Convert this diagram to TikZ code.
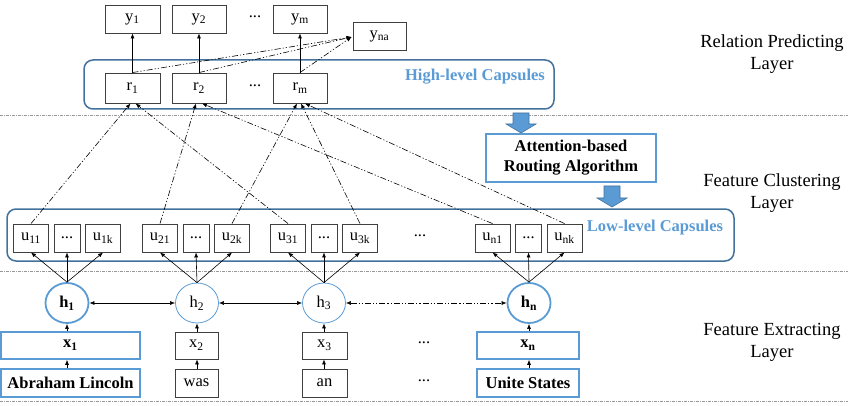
\documentclass[tikz,border=0pt]{standalone}
\usepackage{fontspec}
\setmainfont{Liberation Serif}
\usetikzlibrary{arrows.meta,calc,shapes.geometric}
\definecolor{lblue}{HTML}{5B9BD5}
\definecolor{dblue}{HTML}{41719C}
\definecolor{bgray}{HTML}{404040}
\tikzset{
  box/.style={draw=bgray,line width=0.9pt,minimum height=28pt,inner sep=0pt,
    font=\fontsize{16.5}{19}\selectfont},
  bbox/.style={box,draw=lblue,line width=1.6pt},
  hnode/.style={ellipse,draw=lblue,line width=0.8pt,minimum width=43pt,minimum height=40pt,
    inner sep=0pt,font=\fontsize{16.5}{19}\selectfont},
  hthick/.style={hnode,line width=1.8pt},
  plain/.style={inner sep=0pt,font=\fontsize{16.5}{19}\selectfont},
  arr/.style={-{Latex[length=5pt,width=4pt]},line width=0.6pt,black},
  darr/.style={{Latex[length=5pt,width=4pt]}-{Latex[length=5pt,width=4pt]},line width=0.6pt,black},
  conn/.style={arr,dash pattern=on 6pt off 2pt on 1.2pt off 2pt on 1.2pt off 2pt},
  sep/.style={gray!80,line width=0.9pt,dash pattern=on 3pt off 1pt on 1pt off 1pt},
  capbox/.style={draw=dblue,line width=1.5pt,rounded corners=9pt},
  blockarrow/.style={fill=lblue,draw=dblue,line width=0.6pt},
  lbl/.style={align=center,font=\fontsize{18.5}{22}\selectfont},
  captxt/.style={text=lblue,font=\bfseries\fontsize{16.5}{19}\selectfont,inner sep=0pt}
}
\begin{document}
\begin{tikzpicture}[x=1pt,y=-1pt]
\useasboundingbox (0,0) rectangle (848,406);
% separators
\draw[sep] (0,115) -- (848,115);
\draw[sep] (0,271) -- (848,271);
\draw[sep] (0,401) -- (848,401);
% containers
\draw[capbox] (84,60) rectangle (554,109);
\draw[capbox] (7,209) rectangle (734,261);
\node[captxt] (hlc) at (475,77) {High-level Capsules};
\node[captxt] (llc) at (655,228) {Low-level Capsules};
% y and r
\node[box,minimum width=55pt] (y1) at (132.5,19) {y\textsubscript{1}};
\node[box,minimum width=54pt] (y2) at (199,19) {y\textsubscript{2}};
\node[box,minimum width=54pt] (ym) at (300,19) {y\textsubscript{m}};
\node[box,minimum width=53pt] (yna) at (379.5,36) {y\textsubscript{na}};
\node[plain] (ydots) at (255,17) {...};
\node[box,minimum width=55pt,minimum height=30pt] (r1) at (132.5,88) {r\textsubscript{1}};
\node[box,minimum width=54pt,minimum height=30pt] (r2) at (199,88) {r\textsubscript{2}};
\node[box,minimum width=54pt,minimum height=30pt] (rm) at (300,88) {r\textsubscript{m}};
\node[plain] (rdots) at (255,86) {...};
\draw[arr] (r1) -- (y1);
\draw[arr] (r2) -- (y2);
\draw[arr] (rm) -- (ym);
\draw[conn] (r1.north) -- ($(yna.west)+(-1,1)$);
\draw[conn] (r2.north) -- ($(yna.west)+(-1,1)$);
\draw[conn] (rm.north) -- ($(yna.west)+(-1,1)$);
% attention
\draw[blockarrow] (513,113) -- (529,113) -- (529,124) -- (536,124) -- (521,133) -- (506,124) -- (513,124) -- cycle;
\node[draw=lblue,line width=1.6pt,minimum width=170pt,minimum height=48pt,align=center,
  font=\bfseries\fontsize{16.5}{20}\selectfont] (att) at (571,158) {Attention-based\\Routing Algorithm};
\draw[blockarrow] (604,186) -- (620,186) -- (620,198) -- (627,198) -- (612,207) -- (597,198) -- (604,198) -- cycle;
% u groups
\foreach \g/\cx in {1/67,2/196,3/324,n/528.5} {
  \node[box,minimum width=35pt] (ua\g) at ({\cx-36},238) {u\textsubscript{\g1}};
  \node[box,minimum width=26pt] (ud\g) at (\cx,238) {...};
  \node[box,minimum width=35pt] (uk\g) at ({\cx+36},238) {u\textsubscript{\g k}};
}
\node[plain] (udots) at (420,236) {...};
% h nodes
\node[hthick] (h1) at (67,303) {\textbf{h\textsubscript{1}}};
\node[hnode] (h2) at (197,303) {h\textsubscript{2}};
\node[hnode] (h3) at (324,303) {h\textsubscript{3}};
\node[hthick] (hn) at (529,303) {\textbf{h\textsubscript{n}}};
\foreach \g in {1,2,3,n} {
  \draw[arr] (h\g.north) -- (ua\g.south);
  \draw[arr] (h\g.north) -- (ud\g.south);
  \draw[arr] (h\g.north) -- (uk\g.south);
}
\draw[darr] (h1) -- (h2);
\draw[darr] (h2) -- (h3);
\draw[darr,dash pattern=on 6pt off 2pt on 1.2pt off 2pt on 1.2pt off 2pt] (h3) -- (hn);
% u -> r connectors
\draw[conn] (ua1.north) -- ($(r1.south)+(-2,0)$);
\draw[conn] (ua3.north) -- ($(r1.south)+(3,0)$);
\draw[conn] (ua2.north) -- ($(r2.south)+(-3,0)$);
\draw[conn] (uan.north) -- ($(r2.south)+(3,0)$);
\draw[conn] (uk2.north) -- ($(rm.south)+(-3,0)$);
\draw[conn] (uk3.north) -- ($(rm.south)+(1,0)$);
\draw[conn] (ukn.north) -- ($(rm.south)+(5,0)$);
% x and words
\node[bbox,minimum width=139pt,minimum height=27pt] (x1) at (70.5,345.5) {\textbf{x\textsubscript{1}}};
\node[box,minimum width=43pt,minimum height=27pt] (x2) at (196.5,345.5) {x\textsubscript{2}};
\node[box,minimum width=45pt,minimum height=27pt] (x3) at (324.5,345.5) {x\textsubscript{3}};
\node[bbox,minimum width=102pt,minimum height=27pt] (xn) at (528,345.5) {\textbf{x\textsubscript{n}}};
\node[plain] (xdots) at (424,343) {...};
\node[bbox,minimum width=139pt] (w1) at (70.5,383) {\textbf{Abraham Lincoln}};
\node[box,minimum width=43pt] (w2) at (196.5,383) {was};
\node[box,minimum width=45pt] (w3) at (324.5,383) {an};
\node[bbox,minimum width=102pt] (wn) at (528,383) {\textbf{Unite States}};
\node[plain] (wdots) at (424,381) {...};
\draw[arr] (w1.north -| h1) -- (x1.south -| h1);
\draw[arr] (x1.north -| h1) -- (h1.south);
\draw[arr] (w2.north -| h2) -- (x2.south -| h2);
\draw[arr] (x2.north -| h2) -- (h2.south);
\draw[arr] (w3.north -| h3) -- (x3.south -| h3);
\draw[arr] (x3.north -| h3) -- (h3.south);
\draw[arr] (wn.north -| hn) -- (xn.south -| hn);
\draw[arr] (xn.north -| hn) -- (hn.south);
% layer labels
\node[lbl] (l1) at (772,54) {Relation Predicting\\Layer};
\node[lbl] (l2) at (772,193) {Feature Clustering\\Layer};
\node[lbl] (l3) at (772,342) {Feature Extracting\\Layer};
\end{tikzpicture}
\end{document}
